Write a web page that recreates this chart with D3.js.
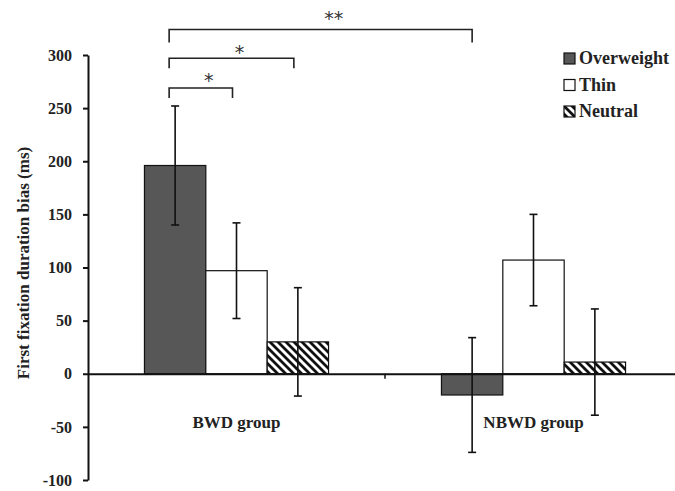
<!DOCTYPE html>
<html>
<head>
<meta charset="utf-8">
<script src="https://cdn.jsdelivr.net/npm/d3@7"></script>
<style>
  body { margin: 0; background: #fff; }
  text { font-family: "Liberation Serif", "Times New Roman", serif; font-weight: bold; fill: #222; }
</style>
</head>
<body>
<div id="chart"></div>
<script>
var width = 675;
var height = 491;

var groups = ['BWD group', 'NBWD group'];
var series = ['Overweight', 'Thin', 'Neutral'];
var overweight = [196, -20];
var overweightErr = [56, 54];
var thin = [97, 107];
var thinErr = [45, 43];
var neutral = [30, 11];
var neutralErr = [51, 50];
var yTicks = [-100, -50, 0, 50, 100, 150, 200, 250, 300];

// significance brackets: [group, series] -> [group, series], height in ms
var brackets = [
    { from: [0, 0], to: [0, 1], level: 269, label: '*' },
    { from: [0, 0], to: [0, 2], level: 297, label: '*' },
    { from: [0, 0], to: [1, 0], level: 324, label: '**' },
];

var values = [overweight, thin, neutral];
var errs = [overweightErr, thinErr, neutralErr];
var fills = ['#575757', '#fff', 'url(#hatch)'];

var rows = [];
groups.forEach((g, gi) => {
    series.forEach((s, si) => {
        rows.push({ group: g, gi: gi, key: s, si: si, value: values[si][gi], err: errs[si][gi] });
    });
});

var svg = d3.select('#chart')
    .append('svg')
    .attr('width', width)
    .attr('height', height);

var defs = svg.append('defs');
var pat = defs.append('pattern')
    .attr('id', 'hatch')
    .attr('patternUnits', 'userSpaceOnUse')
    .attr('width', 8)
    .attr('height', 8);
pat.append('rect').attr('width', 8).attr('height', 8).attr('fill', '#fff');
pat.append('path')
    .attr('d', 'M0,0L8,8M-2,6L2,10M6,-2L10,2')
    .attr('stroke', '#111')
    .attr('stroke-width', 2.8);

var y = d3.scaleLinear().domain([-100, 300]).range([480, 55]);
var x0 = d3.scaleBand().domain(groups).range([88, 682]);
var x1 = d3.scaleBand().domain(series).range([0, x0.bandwidth()]).paddingOuter(0.92);

var cx = (gi, si) => x0(groups[gi]) + x1(series[si]) + x1.bandwidth() / 2;

// bars
svg.append('g')
    .selectAll('rect')
    .data(rows)
    .enter()
    .append('rect')
    .attr('x', (d) => x0(d.group) + x1(d.key))
    .attr('y', (d) => y(Math.max(0, d.value)))
    .attr('width', x1.bandwidth())
    .attr('height', (d) => Math.abs(y(d.value) - y(0)))
    .attr('fill', (d) => fills[d.si])
    .attr('stroke', '#111')
    .attr('stroke-width', 1.2);

// y axis
var yAxis = d3.axisLeft(y)
    .tickValues(yTicks)
    .tickFormat((d) => String(d))
    .tickSize(5)
    .tickSizeOuter(0)
    .tickPadding(11);
var gy = svg.append('g')
    .attr('transform', 'translate(88,0)')
    .call(yAxis);
gy.select('.domain').attr('stroke', '#111').attr('stroke-width', 2);
gy.selectAll('.tick line').attr('stroke', '#111').attr('stroke-width', 2);
gy.selectAll('text')
    .style('font-size', '16px')
    .style('font-family', '"Liberation Serif", serif')
    .style('font-weight', 'bold')
    .attr('fill', '#222');

// x axis on zero line
var xAxis = d3.axisBottom(x0).tickSize(0).tickSizeOuter(0);
var gx = svg.append('g')
    .attr('transform', `translate(0,${y(0)})`)
    .call(xAxis);
gx.select('.domain').attr('stroke', '#111').attr('stroke-width', 2);
gx.selectAll('text')
    .attr('y', 54)
    .attr('dy', 0)
    .style('font-size', '17px')
    .style('font-family', '"Liberation Serif", serif')
    .style('font-weight', 'bold')
    .attr('fill', '#222');
gx.append('line')
    .attr('x1', x0(groups[1]))
    .attr('x2', x0(groups[1]))
    .attr('y1', 0)
    .attr('y2', 5)
    .attr('stroke', '#111')
    .attr('stroke-width', 1.5);

// error bars
var eb = svg.append('g')
    .selectAll('g')
    .data(rows)
    .enter()
    .append('g')
    .attr('stroke', '#111')
    .attr('stroke-width', 1.6);
eb.append('line')
    .attr('x1', (d) => cx(d.gi, d.si))
    .attr('x2', (d) => cx(d.gi, d.si))
    .attr('y1', (d) => y(d.value + d.err))
    .attr('y2', (d) => y(d.value - d.err));
[1, -1].forEach((sgn) => {
    eb.append('line')
        .attr('x1', (d) => cx(d.gi, d.si) - 4)
        .attr('x2', (d) => cx(d.gi, d.si) + 4)
        .attr('y1', (d) => y(d.value + sgn * d.err))
        .attr('y2', (d) => y(d.value + sgn * d.err));
});

// significance brackets
var starShift = [-1, 1, -5];
var bg = svg.append('g')
    .selectAll('g')
    .data(brackets)
    .enter()
    .append('g');
bg.append('path')
    .attr('fill', 'none')
    .attr('stroke', '#222')
    .attr('stroke-width', 1.6)
    .attr('d', (d, i) => {
        var xa = cx(d.from[0], d.from[1]) - 6;
        var xb = cx(d.to[0], d.to[1]) - (i == 2 ? 0 : 4);
        var yy = y(d.level);
        var drop = i == 2 ? 13 : 10;
        return `M${xa},${yy + drop}V${yy}H${xb}V${yy + drop}`;
    });
bg.append('text')
    .attr('x', (d) => (cx(d.from[0], d.from[1]) + cx(d.to[0], d.to[1])) / 2 + (d.label == '**' ? 10 : 3))
    .attr('y', (d, i) => y(d.level) + starShift[i])
    .attr('text-anchor', 'middle')
    .style('font-family', '"DejaVu Sans", sans-serif')
    .style('font-weight', 'normal')
    .style('font-size', '19px')
    .style('fill', '#333')
    .text((d) => d.label);

// y title
svg.append('text')
    .attr('transform', 'translate(29,263) rotate(-90)')
    .attr('text-anchor', 'middle')
    .style('font-size', '17px')
    .text('First fixation duration bias (ms)');

// legend
var lg = svg.append('g')
    .selectAll('g')
    .data(series)
    .enter()
    .append('g')
    .attr('transform', (d, i) => `translate(564,${53 + i * 26.5})`);
lg.append('rect')
    .attr('width', 11)
    .attr('height', 11)
    .attr('fill', (d, i) => fills[i])
    .attr('stroke', '#111')
    .attr('stroke-width', 1.2);
lg.append('text')
    .attr('x', 15)
    .attr('y', 11)
    .style('font-size', '18px')
    .text((d) => d);
</script>
</body>
</html>
